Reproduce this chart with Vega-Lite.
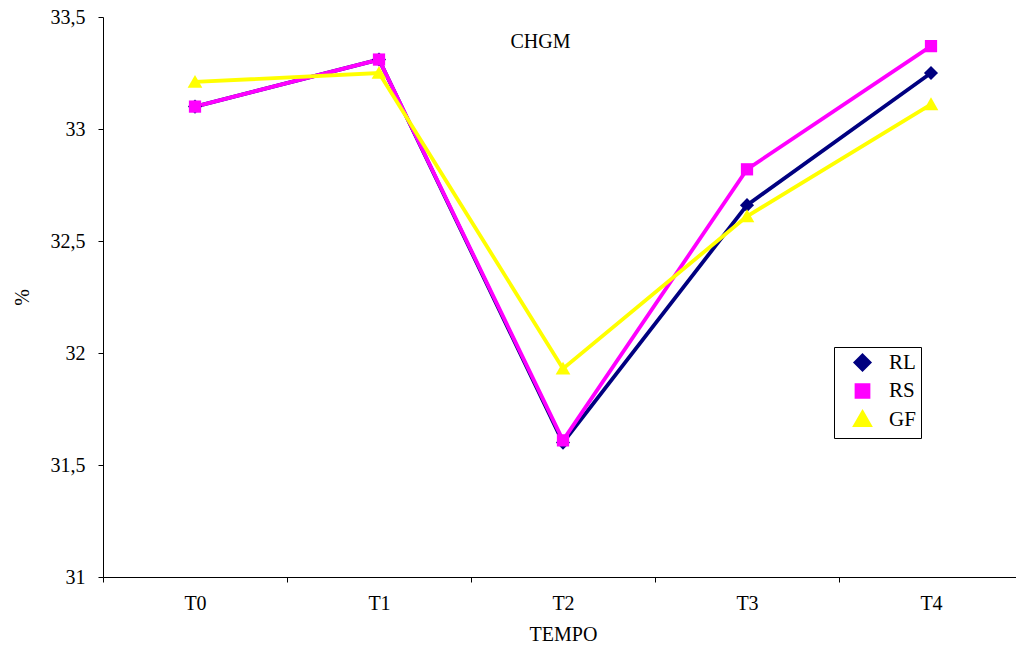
{
  "$schema": "https://vega.github.io/schema/vega-lite/v6.json",
  "width": 913,
  "height": 560,
  "autosize": {"type": "none"},
  "padding": {"left": 103, "top": 17, "right": 0, "bottom": 71},
  "background": "white",
  "title": {
    "text": "CHGM",
    "font": "Liberation Serif",
    "fontSize": 20,
    "fontWeight": "normal",
    "color": "black",
    "anchor": "middle",
    "baseline": "middle",
    "dx": -19,
    "offset": -55
  },
  "data": {
    "values": [
      {"tempo": "T0", "serie": "RL", "valor": 33.10},
      {"tempo": "T1", "serie": "RL", "valor": 33.31},
      {"tempo": "T2", "serie": "RL", "valor": 31.60},
      {"tempo": "T3", "serie": "RL", "valor": 32.66},
      {"tempo": "T4", "serie": "RL", "valor": 33.25},
      {"tempo": "T0", "serie": "RS", "valor": 33.10},
      {"tempo": "T1", "serie": "RS", "valor": 33.31},
      {"tempo": "T2", "serie": "RS", "valor": 31.61},
      {"tempo": "T3", "serie": "RS", "valor": 32.82},
      {"tempo": "T4", "serie": "RS", "valor": 33.37},
      {"tempo": "T0", "serie": "GF", "valor": 33.21},
      {"tempo": "T1", "serie": "GF", "valor": 33.25},
      {"tempo": "T2", "serie": "GF", "valor": 31.93},
      {"tempo": "T3", "serie": "GF", "valor": 32.61},
      {"tempo": "T4", "serie": "GF", "valor": 33.11}
    ]
  },
  "encoding": {
    "x": {
      "field": "tempo",
      "type": "nominal",
      "sort": null,
      "scale": {"type": "band", "range": [0, 920], "paddingInner": 0, "paddingOuter": 0},
      "axis": {
        "title": "TEMPO",
        "labelAngle": 0,
        "tickBand": "extent",
        "tickSize": 5,
        "labelPadding": 11,
        "titlePadding": 11,
        "grid": false
      }
    },
    "y": {
      "field": "valor",
      "type": "quantitative",
      "scale": {"domain": [31, 33.5], "nice": false, "zero": false},
      "axis": {
        "title": "%",
        "values": [31, 31.5, 32, 32.5, 33, 33.5],
        "labelExpr": "replace(format(datum.value, '.1~f'), '.', ',')",
        "tickSize": 5,
        "labelPadding": 13,
        "titlePadding": 18,
        "grid": false
      }
    }
  },
  "layer": [
    {
      "mark": {"type": "line", "strokeWidth": 3.8},
      "encoding": {
        "color": {
          "field": "serie",
          "type": "nominal",
          "sort": ["RL", "RS", "GF"],
          "scale": {"domain": ["RL", "RS", "GF"], "range": ["#000080", "#FF00FF", "#FFFF00"]},
          "legend": {
            "title": null,
            "orient": "none",
            "legendX": 731,
            "legendY": 330,
            "strokeColor": "black",
            "padding": 5,
            "symbolSize": 150,
            "symbolStrokeWidth": 3.5,
            "symbolOffset": 13,
            "labelOffset": 16,
            "rowPadding": 0.5,
            "labelFont": "Liberation Serif",
            "labelFontSize": 21,
            "labelColor": "black"
          }
        }
      }
    },
    {
      "mark": {"type": "point", "filled": true, "opacity": 1, "size": 150},
      "encoding": {
        "fill": {
          "field": "serie",
          "type": "nominal",
          "legend": null,
          "scale": {"domain": ["RL", "RS", "GF"], "range": ["#000080", "#FF00FF", "#FFFF00"]}
        },
        "shape": {
          "field": "serie",
          "type": "nominal",
          "legend": null,
          "scale": {
            "domain": ["RL", "RS", "GF"],
            "range": [
              "M0,-1.15L1.15,0L0,1.15L-1.15,0Z",
              "M-1,-1L1,-1L1,1L-1,1Z",
              "M0,-1.15L1.2,0.95L-1.2,0.95Z"
            ]
          }
        }
      }
    }
  ],
  "config": {
    "view": {"stroke": null},
    "font": "Liberation Serif",
    "axis": {
      "domainColor": "black",
      "tickColor": "black",
      "labelColor": "black",
      "titleColor": "black",
      "labelFont": "Liberation Serif",
      "labelFontSize": 20,
      "titleFont": "Liberation Serif",
      "titleFontSize": 20,
      "titleFontWeight": "normal"
    }
  }
}
